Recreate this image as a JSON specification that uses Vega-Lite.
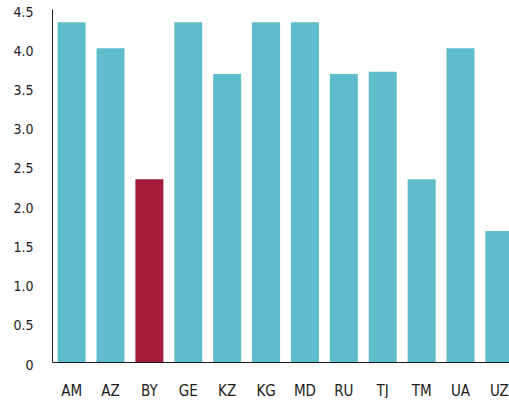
{
  "$schema": "https://vega.github.io/schema/vega-lite/v6.json",
  "width": 467,
  "height": 353,
  "padding": {"left": 12, "top": 5, "right": 0, "bottom": 0},
  "background": "white",
  "config": {"view": {"stroke": null}, "font": "DejaVu Sans Condensed"},
  "data": {"values": [
    {"c": "AM", "v": 4.33, "h": "n"},
    {"c": "AZ", "v": 4.0, "h": "n"},
    {"c": "BY", "v": 2.33, "h": "y"},
    {"c": "GE", "v": 4.33, "h": "n"},
    {"c": "KZ", "v": 3.67, "h": "n"},
    {"c": "KG", "v": 4.33, "h": "n"},
    {"c": "MD", "v": 4.33, "h": "n"},
    {"c": "RU", "v": 3.67, "h": "n"},
    {"c": "TJ", "v": 3.7, "h": "n"},
    {"c": "TM", "v": 2.33, "h": "n"},
    {"c": "UA", "v": 4.0, "h": "n"},
    {"c": "UZ", "v": 1.67, "h": "n"}
  ]},
  "mark": {"type": "bar"},
  "encoding": {
    "x": {"field": "c", "type": "nominal", "sort": null,
      "scale": {"paddingInner": 0.28, "paddingOuter": 0.144},
      "axis": {"title": null, "labelAngle": 0, "ticks": false, "labelPadding": 21, "labelFontSize": 15, "labelColor": "#1a1a1a", "domainColor": "#1a1a1a", "domainWidth": 1}},
    "y": {"field": "v", "type": "quantitative",
      "scale": {"domain": [0, 4.5], "nice": false},
      "axis": {"title": null, "values": [0, 0.5, 1, 1.5, 2, 2.5, 3, 3.5, 4, 4.5], "labelExpr": "datum.value == 0 ? '0' : format(datum.value, '.1f')", "grid": false, "ticks": false, "labelPadding": 19, "labelOffset": 3, "labelFontSize": 14, "labelColor": "#1a1a1a", "domainColor": "#1a1a1a", "domainWidth": 1}},
    "color": {"field": "h", "type": "nominal", "scale": {"domain": ["n", "y"], "range": ["#5FBCCD", "#A31C3A"]}, "legend": null}
  }
}
